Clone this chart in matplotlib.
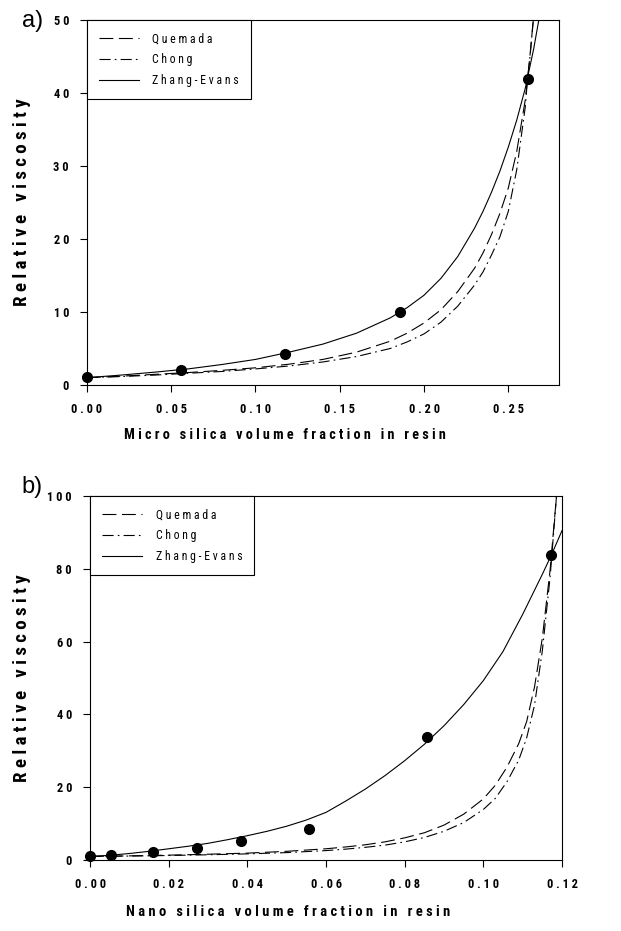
import matplotlib
matplotlib.use("Agg")
import matplotlib.pyplot as plt
from matplotlib import font_manager

# pick a condensed bold face if one is installed
candidates = ['Liberation Sans Narrow', 'Arial Narrow', 'Roboto Condensed', 'Archivo Narrow',
              'PT Sans Narrow', 'Fira Sans Condensed', 'IBM Plex Sans Condensed',
              'Asap Condensed', 'Encode Sans Condensed', 'Sofia Sans Condensed',
              'Barlow Semi Condensed', 'Pragati Narrow', 'Liberation Sans']
bold_fonts = {f.name for f in font_manager.fontManager.ttflist if f.weight in (700, 'bold')}
narrow = next((c for c in candidates if c in bold_fonts), 'DejaVu Sans')

plt.rcParams['font.family'] = [narrow, 'DejaVu Sans']
plt.rcParams['lines.scale_dashes'] = False

# panel a: micro silica
micro_x = [0.0, 0.0558, 0.1174, 0.1855, 0.2614]
micro_y = [1.1, 2.0, 4.3, 10.0, 41.9]
micro_ze_x = [0.0, 0.02, 0.04, 0.06, 0.08, 0.10, 0.12, 0.14, 0.16, 0.18, 0.19, 0.20,
              0.21, 0.22, 0.23, 0.235, 0.24, 0.245, 0.25, 0.255, 0.26, 0.265, 0.27]
micro_ze_y = [1.0, 1.35, 1.75, 2.2, 2.8, 3.5, 4.5, 5.6, 7.1, 9.2, 10.6, 12.3,
              14.6, 17.6, 21.5, 23.8, 26.4, 29.3, 32.6, 36.3, 40.6, 46.0, 52.5]
micro_qu_x = [0.0, 0.02, 0.04, 0.06, 0.08, 0.10, 0.12, 0.14, 0.16, 0.18, 0.19, 0.20,
              0.21, 0.22, 0.23, 0.235, 0.24, 0.245, 0.25, 0.255, 0.26, 0.2614, 0.263, 0.265]
micro_qu_y = [1.0, 1.2, 1.45, 1.7, 2.0, 2.35, 2.85, 3.5, 4.5, 6.0, 7.1, 8.5,
              10.3, 12.8, 16.0, 18.1, 20.6, 23.5, 27.0, 32.0, 39.0, 41.9, 45.5, 50.5]
micro_ch_x = [0.0, 0.02, 0.04, 0.06, 0.08, 0.10, 0.12, 0.14, 0.16, 0.18, 0.19, 0.20,
              0.21, 0.22, 0.23, 0.235, 0.24, 0.245, 0.25, 0.255, 0.26, 0.2614, 0.263, 0.265]
micro_ch_y = [1.0, 1.15, 1.35, 1.6, 1.85, 2.2, 2.6, 3.15, 3.9, 5.0, 5.9, 7.0,
              8.6, 10.8, 13.7, 15.5, 17.8, 20.3, 23.8, 29.5, 38.0, 41.9, 45.3, 50.5]

# panel b: nano silica
nano_x = [0.0, 0.00525, 0.0161, 0.0271, 0.0384, 0.0557, 0.0857, 0.1173]
nano_y = [1.1, 1.3, 2.1, 3.2, 5.1, 8.6, 33.9, 83.8]
nano_ze_x = [0.0, 0.005, 0.01, 0.015, 0.02, 0.025, 0.03, 0.035, 0.04, 0.045, 0.05, 0.055,
             0.06, 0.065, 0.07, 0.075, 0.08, 0.085, 0.09, 0.095, 0.10, 0.105, 0.11, 0.115,
             0.1173, 0.12]
nano_ze_y = [1.0, 1.3, 1.8, 2.4, 3.1, 3.8, 4.6, 5.6, 6.7, 7.9, 9.3, 11.0,
             13.1, 16.2, 19.5, 23.2, 27.3, 31.8, 36.9, 42.7, 49.3, 57.3, 67.5, 78.5,
             83.8, 90.5]
nano_qu_x = [0.0, 0.01, 0.02, 0.03, 0.04, 0.05, 0.06, 0.065, 0.07, 0.075, 0.08, 0.085,
             0.09, 0.095, 0.10, 0.103, 0.106, 0.109, 0.111, 0.113, 0.115, 0.117, 0.1186]
nano_qu_y = [1.0, 1.15, 1.35, 1.6, 1.9, 2.4, 3.1, 3.6, 4.2, 5.0, 6.1, 7.5,
             9.6, 12.6, 16.8, 20.5, 25.5, 32.0, 38.0, 47.5, 61.0, 80.0, 100.0]
nano_ch_x = [0.0, 0.01, 0.02, 0.03, 0.04, 0.05, 0.06, 0.065, 0.07, 0.075, 0.08, 0.085,
             0.09, 0.095, 0.10, 0.103, 0.106, 0.109, 0.111, 0.113, 0.115, 0.117, 0.1186]
nano_ch_y = [1.0, 1.1, 1.25, 1.45, 1.7, 2.05, 2.6, 3.0, 3.5, 4.1, 5.0, 6.2,
             7.9, 10.3, 13.9, 16.9, 21.5, 27.5, 33.5, 42.5, 57.5, 78.0, 100.0]

micro_xticks = [0.0, 0.05, 0.10, 0.15, 0.20, 0.25]
micro_yticks = [0, 10, 20, 30, 40, 50]
nano_xticks = [0.0, 0.02, 0.04, 0.06, 0.08, 0.10, 0.12]
nano_yticks = [0, 20, 40, 60, 80, 100]


def spaced(s):
    # letter-spaced text as in the original (SigmaPlot style)
    return "   ".join(" ".join(w) for w in s.split(" "))


def fit(text, renderer, target, vertical=False):
    bb = text.get_window_extent(renderer)
    cur = bb.height if vertical else bb.width
    text.set_fontsize(text.get_fontsize() * target / cur)


def panel(ax, px, py, qx, qy, cx, cy, zx, zy, xlim, ylim, xticks, yticks, xlabel):
    ax.plot(qx, qy, color='black', lw=0.8, dashes=(10, 4), label=spaced("Quemada"))
    ax.plot(cx, cy, color='black', lw=0.8, dashes=(8, 3, 1.2, 3), label=spaced("Chong"))
    ax.plot(zx, zy, color='black', lw=0.8, label=spaced("Zhang-Evans"))
    ax.plot(px, py, 'o', color='black', ms=7, clip_on=False, zorder=5)
    ax.set_xlim(*xlim)
    ax.set_ylim(*ylim)
    ax.set_xticks(xticks)
    ax.set_yticks(yticks)
    ax.set_xticklabels([spaced(f"{t:.2f}") for t in xticks], fontsize=9, fontweight='bold')
    ax.set_yticklabels([spaced(str(t)) for t in yticks], fontsize=9, fontweight='bold')
    ax.tick_params(direction='out', length=5, width=0.8, pad=8)
    ax.set_xlabel(spaced(xlabel), fontsize=12, fontweight='bold', va='center', ha='center')
    ax.set_ylabel(spaced("Relative viscosity"), fontsize=12, fontweight='bold',
                  va='center', ha='center')
    for sp in ax.spines.values():
        sp.set_linewidth(0.8)
    leg = ax.legend(loc='upper left', borderaxespad=0, fancybox=False, framealpha=1,
                    edgecolor='black', fontsize=8, handlelength=3.6, handletextpad=1.2,
                    labelspacing=0.7, borderpad=1.1)
    leg.get_frame().set_linewidth(0.8)
    return leg


fig = plt.figure(figsize=(6.21, 9.31), dpi=100)
ax1 = fig.add_axes([0.140, 0.5865, 0.760, 0.392])
ax2 = fig.add_axes([0.145, 0.0762, 0.760, 0.391])

leg1 = panel(ax1, micro_x, micro_y, micro_qu_x, micro_qu_y, micro_ch_x, micro_ch_y,
             micro_ze_x, micro_ze_y, (0, 0.28), (0, 50), micro_xticks, micro_yticks,
             "Micro silica volume fraction in resin")
leg2 = panel(ax2, nano_x, nano_y, nano_qu_x, nano_qu_y, nano_ch_x, nano_ch_y,
             nano_ze_x, nano_ze_y, (0, 0.12), (0, 100), nano_xticks, nano_yticks,
             "Nano silica volume fraction in resin")

ax1.xaxis.set_label_coords(0.42, -0.137)
ax1.yaxis.set_label_coords(-0.137, 0.5)
ax2.xaxis.set_label_coords(0.42, -0.143)
ax2.yaxis.set_label_coords(-0.144, 0.5)

# scale the text to the widths seen in the original
renderer = fig.canvas.get_renderer()
for ax, leg in ((ax1, leg1), (ax2, leg2)):
    fit(ax.xaxis.label, renderer, 325)
    fit(ax.yaxis.label, renderer, 208, vertical=True)
    xt = ax.get_xticklabels()[0]
    w = xt.get_window_extent(renderer).width
    for t in ax.get_xticklabels() + ax.get_yticklabels():
        t.set_fontsize(t.get_fontsize() * 31 / w)
    lt = leg.get_texts()[2]
    w = lt.get_window_extent(renderer).width
    for t in leg.get_texts():
        t.set_fontsize(t.get_fontsize() * 86 / w)

fig.text(0.035, 0.977, "a)", fontsize=17, va='center', family='Liberation Sans')
fig.text(0.035, 0.477, "b)", fontsize=17, va='center', family='Liberation Sans')

fig.savefig("out.png", dpi=100)
